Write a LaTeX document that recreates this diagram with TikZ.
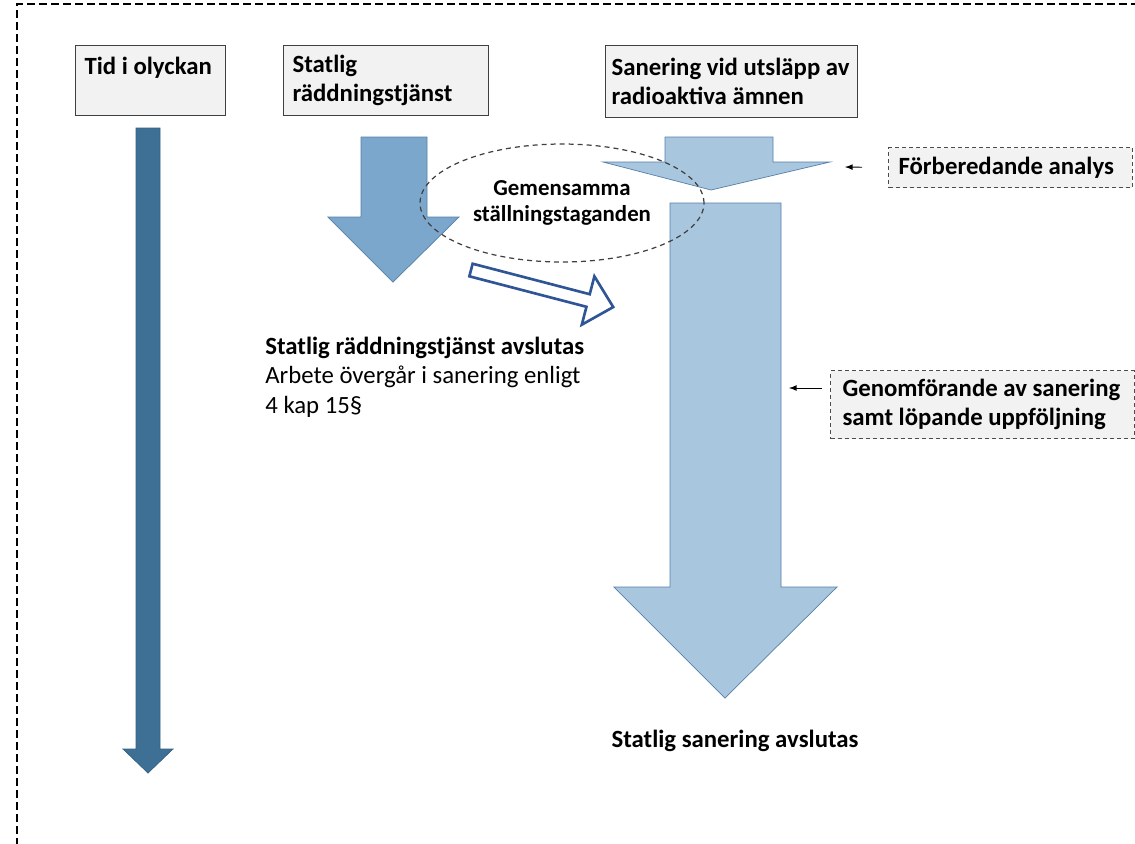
\documentclass[tikz,border=0pt]{standalone}
\usepackage{fontspec}
\setmainfont{Carlito}
\usetikzlibrary{positioning, shapes.geometric}
\definecolor{timeblue}{RGB}{62,112,150}
\definecolor{rescueblue}{RGB}{124,167,204}
\definecolor{saneblue}{RGB}{169,198,223}
\definecolor{edgeblue}{RGB}{84,128,168}
\definecolor{hollowblue}{RGB}{47,85,151}
\definecolor{boxgray}{RGB}{242,242,242}
\newcommand{\bigtext}{\fontsize{14.1}{16.6}\selectfont}
\tikzset{titlebox/.style = {draw=black!75, fill=boxgray, line width=0.7pt, anchor=north west, minimum height=1.4cm, inner xsep=0.18cm, align=flush left, font=\bigtext\bfseries}}
\tikzset{notebox/.style = {draw=black!70, dash pattern=on 0.08cm off 0.06cm, fill=boxgray, line width=0.6pt, anchor=north west, inner xsep=0.2cm, align=flush left, font=\bigtext\bfseries}}
\tikzset{plaintext/.style = {inner sep=0pt, align=flush left, font=\bigtext}}
\tikzset{timearrow/.style = {fill=timeblue, draw=timeblue!85!black, line width=0.4pt}}
\tikzset{rescuearrow/.style = {fill=rescueblue, draw=edgeblue, line width=0.4pt}}
\tikzset{sanearrow/.style = {fill=saneblue, draw=edgeblue, line width=0.4pt}}
\tikzset{handover/.style = {draw=hollowblue, fill=white, line width=1.5pt}}
\tikzset{joint/.style = {draw=black!75, ellipse, dash pattern=on 0.1cm off 0.08cm, line width=0.7pt, align=center, font=\fontsize{13}{14.7}\selectfont\bfseries}}

\begin{document}
\begin{tikzpicture}[x=0.02cm, y=-0.02cm, >=latex]
  \useasboundingbox (0,0) rectangle (1135,843);
  \clip (0,0) rectangle (1135,843);
  \draw [dash pattern=on 0.16cm off 0.08cm, line width=0.85pt] (17,870) -- (17,4) -- (1160,4);

  % block arrows
  \draw [timearrow] (136,128) -- (160,128) -- (160,749) -- (173,749) -- (148,773) -- (123,749) -- (136,749) -- cycle;
  \draw [rescuearrow] (361,137) -- (427,137) -- (427,217) -- (459,217) -- (393,282) -- (328,217) -- (361,217) -- cycle;
  \draw [sanearrow] (665,137) -- (773,137) -- (773,162) -- (830,162) -- (711,190) -- (603,162) -- (665,162) -- cycle;
  \draw [sanearrow] (670,203) -- (781,203) -- (781,587) -- (837,587) -- (725,698) -- (614,587) -- (670,587) -- cycle;

  \node [titlebox, text width=2.64cm] (tid) at (75,45) {Tid i olyckan\\ \mbox{}};
  \node [titlebox, text width=3.74cm] (rdtj) at (283,45) {Statlig\\räddningstjänst};
  \node [titlebox, text width=4.8cm, inner xsep=0.12cm, minimum height=1.44cm] (sanering) at (605,45) {Sanering vid utsläpp av\\radioaktiva ämnen};

  \node [joint, minimum width=5.68cm, minimum height=2.36cm] (gemensamma) at (562,203) {Gemensamma\\ställningstaganden};

  \begin{scope}[shift={(471,270)}, rotate=-14.6]
    \draw [handover] (0,-6.5) -- (121,-6.5) -- (121,-25) -- (147,0) -- (121,25) -- (121,6.5) -- (0,6.5) -- cycle;
  \end{scope}

  \node [plaintext, anchor=north west] (rdslut) at (265,337) {\textbf{Statlig räddningstjänst avslutas}\\Arbete övergår i sanering enligt\\4 kap 15§};
  \node [plaintext, font=\bigtext\bfseries] (saneslut) at (735,741) {Statlig sanering avslutas};

  \node [notebox, text width=4.48cm, minimum height=0.8cm] (forb) at (888,147) {Förberedande analys};
  \node [notebox, text width=5.6cm, minimum height=1.36cm, inner xsep=0.24cm] (genom) at (830,370) {Genomförande av sanering\\samt löpande uppföljning};

  \coordinate (forbtip) at (845,167);
  \coordinate (genomtip) at (789,388);
  \draw [->, line width=0.5pt, shorten <=0.52cm] (forb.west) -- (forbtip);
  \draw [->, line width=0.5pt, shorten <=0.16cm] (genom.west |- genomtip) -- (genomtip);
\end{tikzpicture}
\end{document}
